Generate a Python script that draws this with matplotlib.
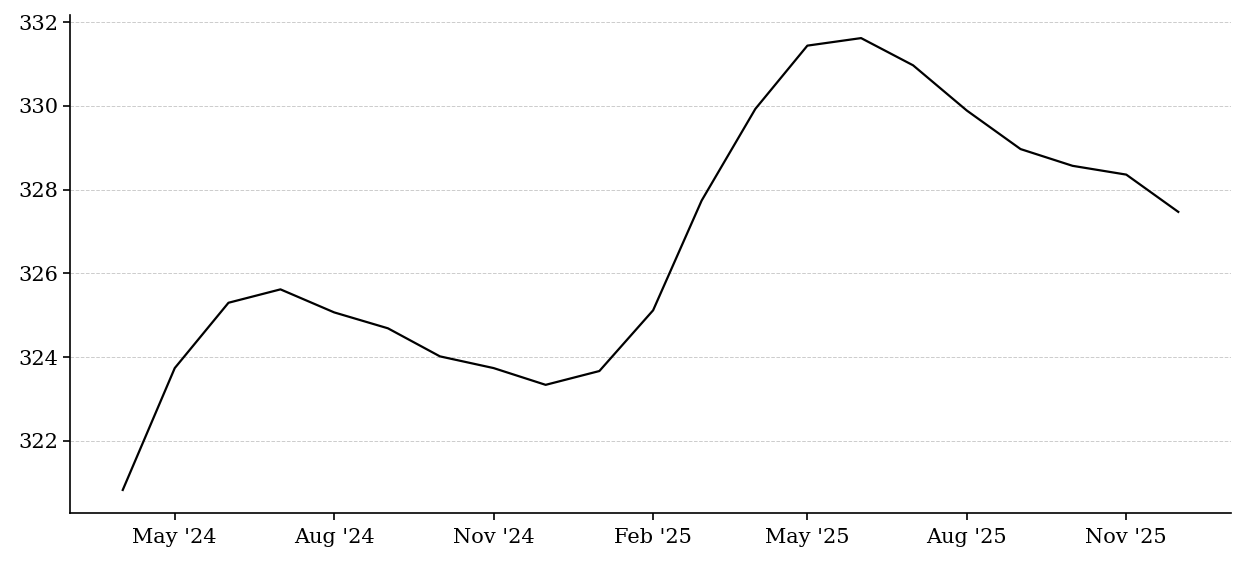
import matplotlib
matplotlib.use('Agg')
import matplotlib.pyplot as plt
import matplotlib.dates as mdates
import pandas as pd

months = pd.date_range("2024-04-01", "2025-12-01", freq="MS")
values = [320.83, 323.74, 325.30, 325.62, 325.07, 324.69, 324.02, 323.74, 323.34, 323.67,
          325.12, 327.74, 329.93, 331.44, 331.62, 330.97, 329.89, 328.97, 328.57, 328.36,
          327.47]

plt.rcParams['font.family'] = 'DejaVu Serif'

fig = plt.figure(figsize=(12.45, 5.62), dpi=100)
ax = fig.add_axes([0.0562, 0.0872, 0.9326, 0.886])

ax.plot(months, values, color="black", lw=1.6)

ax.xaxis.set_major_locator(mdates.MonthLocator(bymonth=(2, 5, 8, 11)))
ax.xaxis.set_major_formatter(mdates.DateFormatter("%b '%y"))
ax.set_yticks([322, 324, 326, 328, 330, 332])
ax.set_ylim(320.28, 332.17)

ax.grid(axis="y", linestyle="--", linewidth=0.7, color="#cccccc")
ax.spines["top"].set_visible(False)
ax.spines["right"].set_visible(False)
ax.tick_params(labelsize=15, length=5, width=1.2)
ax.tick_params(axis="x", pad=6)
for s in ("left", "bottom"):
    ax.spines[s].set_linewidth(1.2)

fig.savefig("out.png", dpi=100)
